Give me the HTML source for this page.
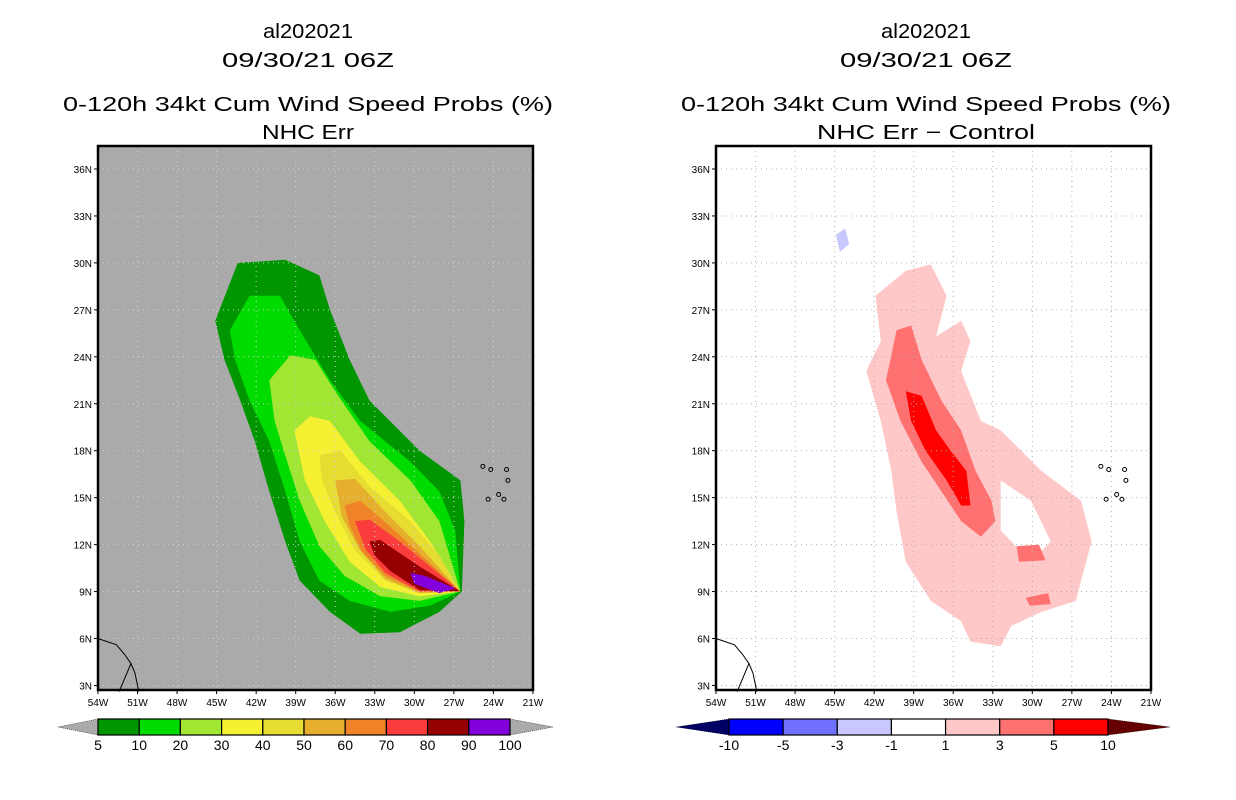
<!DOCTYPE html>
<html><head><meta charset="utf-8"><style>
html,body{margin:0;padding:0;background:#fff;width:1236px;height:800px;overflow:hidden}
svg text{font-family:"Liberation Sans",sans-serif;fill:#000}
</style></head><body>
<svg id="s" width="1236" height="800" xmlns="http://www.w3.org/2000/svg"></svg>
<script>
const lonTicks=[54,51,48,45,42,39,36,33,30,27,24,21];
const latTicks=[36,33,30,27,24,21,18,15,12,9,6,3];
const probLevels=["5","10","20","30","40","50","60","70","80","90","100"];
const probColors=["#009600","#00dc00","#a0e632","#f5f032","#e6dc32","#e6af2d","#f08228","#fa3c3c","#960000","#8200dc"];
const diffLevels=["-10","-5","-3","-1","1","3","5","10"];
const diffColors=["#0000ff","#7070ff","#c8c8ff","#ffffff","#ffc8c8","#ff7070","#ff0000"];
const p5=[[45.1,26.3],[43.4,30.0],[39.8,30.2],[37.2,29.2],[36.4,27.0],[34.9,23.8],[33.4,21.2],[29.6,18.0],[26.5,16.1],[26.2,13.5],[26.4,9.0],[28.1,7.7],[31.1,6.4],[34.1,6.3],[36.4,7.7],[38.7,9.7],[39.8,12.2],[41.0,15.4],[42.1,18.6],[43.2,21.2],[44.4,23.8]];
const p10=[[44.0,25.7],[42.5,27.9],[40.2,27.9],[38.7,25.7],[36.4,22.5],[34.1,19.9],[30.3,17.3],[28.1,15.4],[26.9,12.9],[26.5,9.0],[28.8,8.1],[31.8,7.7],[34.9,8.4],[37.2,9.7],[38.7,12.2],[39.8,15.4],[41.0,18.6],[42.5,21.2],[43.6,23.8]];
const p20=[[41.0,22.5],[39.4,24.1],[37.5,23.8],[36.0,21.8],[33.4,18.6],[30.3,16.1],[28.1,13.5],[26.5,9.0],[29.6,8.4],[32.6,8.7],[35.3,10.0],[37.2,11.9],[38.7,14.8],[39.8,17.7],[40.6,19.9]];
const p30=[[39.1,19.3],[37.9,20.2],[36.4,19.9],[34.1,17.3],[31.1,14.8],[28.8,12.2],[26.5,9.0],[29.6,8.7],[32.6,9.3],[34.9,10.9],[36.8,13.5],[38.3,16.1]];
const p40=[[37.2,17.7],[35.6,18.0],[33.4,15.7],[30.3,13.5],[28.1,11.3],[26.5,9.0],[29.6,8.9],[32.2,9.7],[34.5,11.6],[36.0,14.1],[37.0,16.1]];
const p50=[[36.0,16.1],[34.5,16.2],[32.2,14.1],[29.6,11.9],[26.5,9.0],[29.6,8.9],[32.2,9.8],[34.1,11.6],[35.5,13.8]];
const p60=[[35.3,14.5],[34.1,14.8],[31.5,12.9],[26.5,9.0],[29.6,9.0],[32.2,10.0],[34.0,11.6],[34.9,13.2]];
const p70=[[34.5,13.5],[33.4,13.6],[31.1,12.2],[26.5,9.0],[29.6,9.0],[32.2,10.2],[33.7,11.7]];
const p80=[[33.4,12.2],[32.6,12.3],[29.6,10.6],[26.5,9.0],[29.6,9.1],[31.8,10.3],[33.0,11.3]];
const p90=[[30.3,10.2],[29.2,10.0],[26.9,9.2],[28.1,8.9],[30.0,9.5]];
const d1=[[41.9,27.9],[39.6,29.5],[37.7,29.9],[36.5,27.9],[37.3,25.3],[35.4,26.3],[34.7,25.0],[35.4,23.1],[33.9,19.9],[32.4,19.3],[29.3,16.7],[26.3,14.8],[25.5,12.2],[26.3,9.7],[26.7,8.4],[29.3,7.7],[31.6,6.8],[32.4,5.5],[34.7,5.8],[35.4,7.1],[37.7,8.4],[39.6,10.9],[40.3,14.1],[40.7,16.7],[41.5,19.9],[42.6,23.1],[41.5,25.0]];
const dHole=[[32.4,16.1],[30.1,14.8],[28.6,12.2],[30.1,10.9],[32.4,12.9]];
const d3=[[40.3,25.7],[39.2,26.0],[38.4,23.8],[36.9,21.2],[35.4,19.3],[34.3,16.7],[33.1,14.8],[32.8,13.5],[33.9,12.5],[35.4,13.5],[36.9,15.4],[38.4,17.3],[40.0,19.9],[41.1,22.5]];
const d3b=[[31.2,11.9],[29.5,12.0],[29.0,11.0],[31.0,10.9]];
const d3c=[[30.5,8.6],[28.8,8.9],[28.6,8.2],[30.2,8.1]];
const d5=[[39.6,21.8],[38.4,21.5],[37.3,19.3],[36.2,18.0],[35.0,16.7],[34.7,14.5],[35.4,14.5],[36.5,16.1],[38.1,18.0],[39.2,19.9]];
const dNeg=[[44.9,31.8],[44.2,32.2],[43.9,31.2],[44.6,30.7]];
const coast=[[54,6.0],[52.6,5.6],[52.0,5.0],[51.5,4.4],[51.2,3.8],[50.9,2.6]];
const coast2=[[52.4,2.6],[51.9,3.6],[51.5,4.4]];

const NS="http://www.w3.org/2000/svg";
const svg=document.getElementById('s');
function mk(tag,at,parent){const e=document.createElementNS(NS,tag);for(const k in at)e.setAttribute(k,at[k]);(parent||svg).appendChild(e);return e;}
const W=435,H=544,TOP=146;
function panel(x0,bg,gridCol,name){
  const g=mk('g',{});
  
  
  const X=lon=>x0+(54-lon)*13.18;
  const Y=lat=>169+(36-lat)*15.65;
  const r=mk('rect',{x:x0,y:TOP,width:W,height:H,fill:bg},g);
  
  
  return {g,X,Y,x0,gridCol};
}
function poly(P,pts,fill,name){
  const e=mk('polygon',{points:pts.map(p=>P.X(p[0]).toFixed(1)+','+P.Y(p[1]).toFixed(1)).join(' '),fill:fill},P.g);
  
  
}
function finish(P){
  const g=P.g;
  lonTicks.forEach(l=>{const x=P.X(l);
    if(l!==54&&l!==21){const gl=mk('line',{x1:x,y1:TOP,x2:x,y2:TOP+H,stroke:P.gridCol,'stroke-dasharray':'1,4','stroke-width':1},g);
      }
    mk('line',{x1:x,y1:TOP+H,x2:x,y2:TOP+H+4,stroke:'#000'},g);
    const t=mk('text',{x:x,y:TOP+H+16,'font-size':10,'text-anchor':'middle'},g);t.textContent=l+'W';
    });
  latTicks.forEach(l=>{const y=P.Y(l);
    const gl=mk('line',{x1:P.x0,y1:y,x2:P.x0+W,y2:y,stroke:P.gridCol,'stroke-dasharray':'1,4','stroke-width':1},g);
    
    mk('line',{x1:P.x0-4,y1:y,x2:P.x0,y2:y,stroke:'#000'},g);
    const t=mk('text',{x:P.x0-6,y:y+4,'font-size':10,'text-anchor':'end'},g);t.textContent=l+'N';
    });
  [coast,coast2].forEach(c=>{const e=mk('polyline',{points:c.map(p=>P.X(p[0])+','+P.Y(p[1])).join(' '),fill:'none',stroke:'#000','stroke-width':1},g);
    });
  [[24.8,17.0],[24.2,16.8],[23.0,16.8],[22.9,16.1],[23.6,15.2],[24.4,14.9],[23.2,14.9]].forEach(p=>{
    const e=mk('circle',{cx:P.X(p[0]),cy:P.Y(p[1]),r:2,fill:'none',stroke:'#000','stroke-width':1},g);
    });
  const f=mk('rect',{x:P.x0,y:TOP,width:W,height:H,fill:'none',stroke:'#000','stroke-width':2.5},g);
  
}
function titles(cx,line4,w4){
  [['al202021',38,'storm-id',90],['09/30/21 06Z',67,'date-title',172],['0-120h 34kt Cum Wind Speed Probs (%)',111,'main-title',490],[line4,139,'subtitle',w4]].forEach(([s,y,n,w])=>{
    const t=mk('text',{x:cx,y:y,'font-size':20,'text-anchor':'middle',textLength:w,lengthAdjust:'spacingAndGlyphs'});
    t.textContent=s;});
}
titles(308,'NHC Err',92);
const L=panel(98,'#aaaaaa','#d0d0d0','left-map');
[[p5,0],[p10,1],[p20,2],[p30,3],[p40,4],[p50,5],[p60,6],[p70,7],[p80,8],[p90,9]].forEach(([p,i])=>poly(L,p,probColors[i],'contour-'+probLevels[i]));
finish(L);
titles(926,'NHC Err \u2212 Control',218);
const R=panel(716,'#ffffff','#b0b0b0','right-map');
poly(R,d1,diffColors[4],'diff-1-3');
poly(R,dHole,'#ffffff','diff-hole');
poly(R,d3,diffColors[5],'diff-3-5');
poly(R,d3b,diffColors[5],'diff-3-5b');
poly(R,d3c,diffColors[5],'diff-3-5c');
poly(R,d5,diffColors[6],'diff-5-10');
poly(R,dNeg,diffColors[2],'diff-neg');
finish(R);
function cbar(x0,x1,y,cols,labels,leftTri,rightTri,triL,triR,name){
  const g=mk('g',{});
  const h=16,w=(x1-x0)/cols.length;
  mk('polygon',{points:`${x0},${y} ${triL},${y+h/2} ${x0},${y+h}`,fill:leftTri,stroke:'#000','stroke-width':0.5,'stroke-dasharray':'1,1'},g);
  mk('polygon',{points:`${x1},${y} ${triR},${y+h/2} ${x1},${y+h}`,fill:rightTri,stroke:'#000','stroke-width':0.5,'stroke-dasharray':'1,1'},g);
  cols.forEach((c,i)=>{const r=mk('rect',{x:x0+i*w,y:y,width:w,height:h,fill:c,stroke:'#000','stroke-width':1.2},g);
    });
  labels.forEach((s,i)=>{const t=mk('text',{x:x0+i*w,y:y+31,'font-size':14,'text-anchor':'middle'},g);t.textContent=s;
    });
}
cbar(98,510,719,probColors,probLevels,'#aaaaaa','#aaaaaa',58,553,'prob-colorbar');
cbar(729,1108,719,diffColors,diffLevels,'#000064','#640000',676,1170,'diff-colorbar');
</script>
</body></html>
